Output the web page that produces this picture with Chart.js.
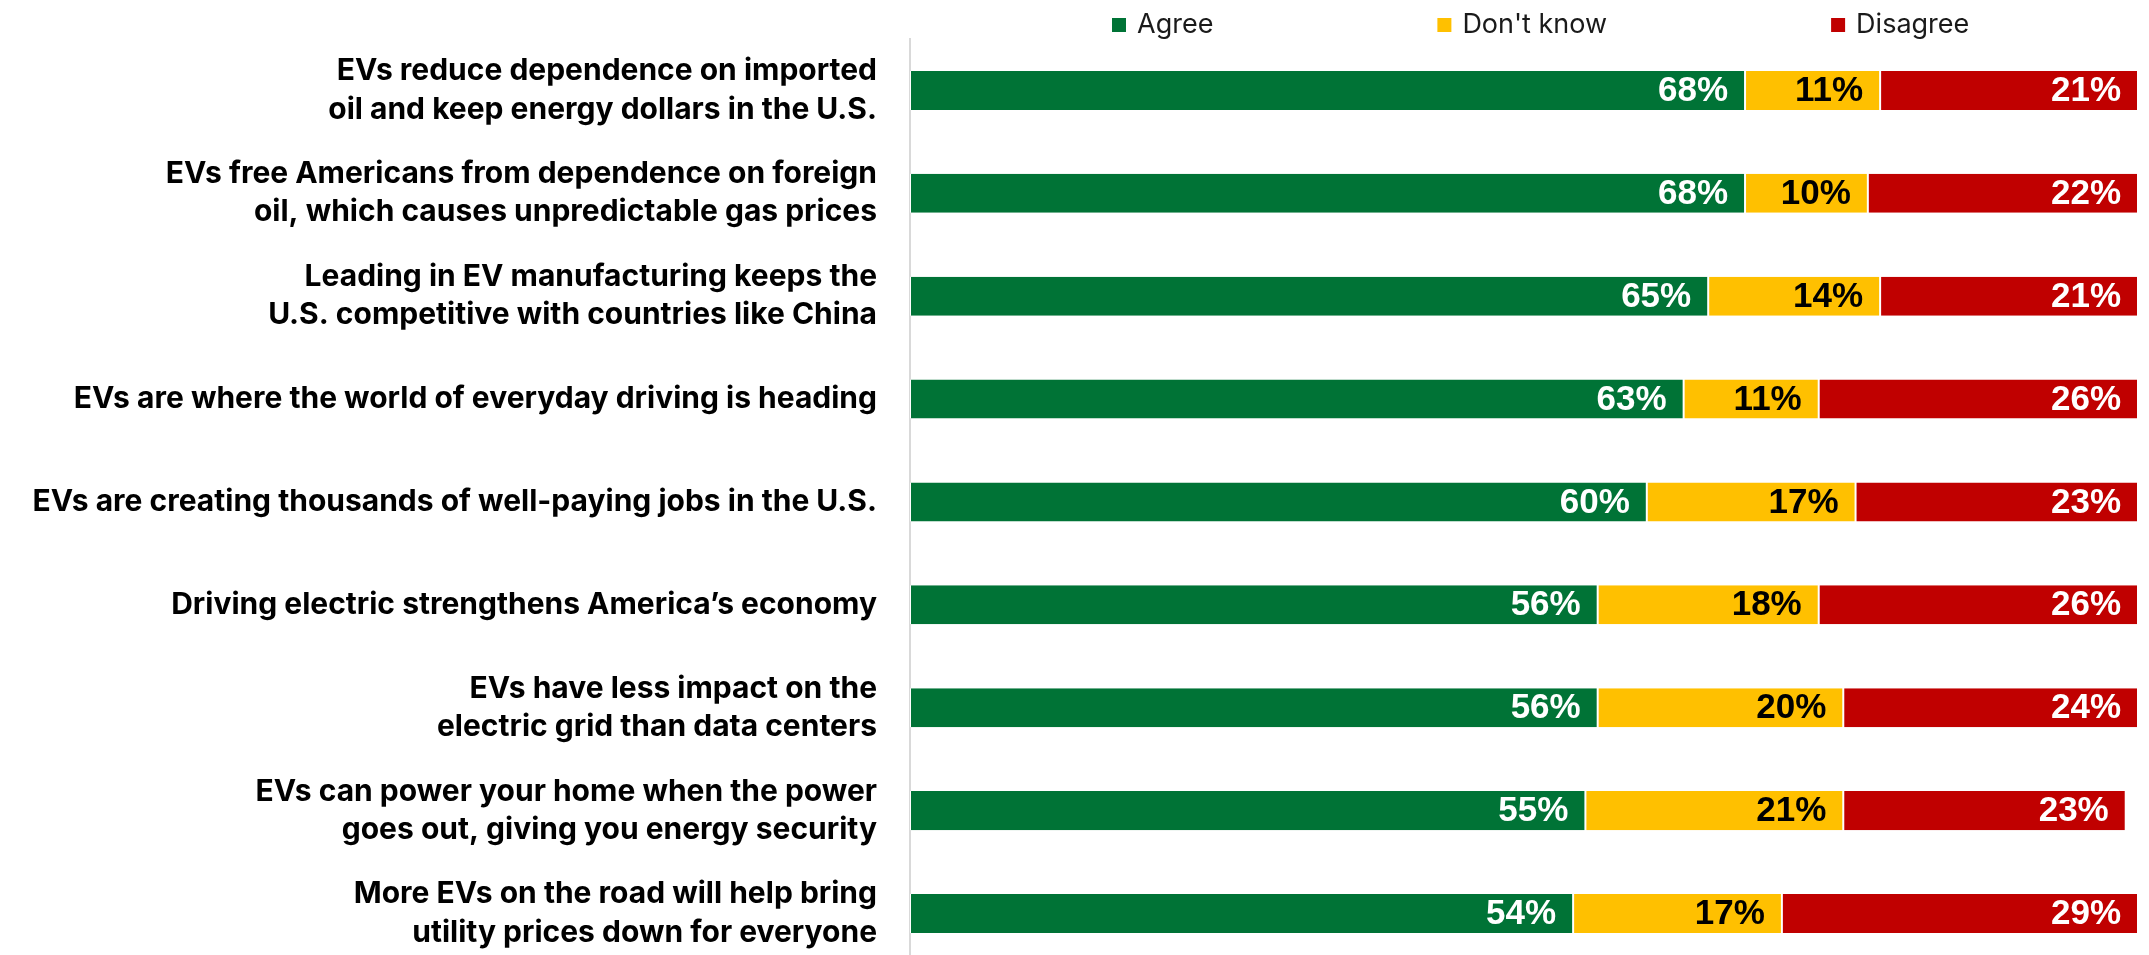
<!DOCTYPE html>
<html>
<head>
<meta charset="utf-8">
<script src="https://cdn.jsdelivr.net/npm/chart.js@4/dist/chart.umd.min.js"></script>
<style>
  html, body { margin: 0; padding: 0; background: #ffffff; overflow: hidden; }
  #wrap { width: 2149px; height: 955px; overflow: hidden; }
  canvas { display: block; }
</style>
</head>
<body>
<div id="wrap"><canvas id="chart" width="2149" height="1003"></canvas></div>
<script>
// Statements (multi-line labels as arrays of lines)
const categories = [
  ["EVs reduce dependence on imported", "oil and keep energy dollars in the U.S."],
  ["EVs free Americans from dependence on foreign", "oil, which causes unpredictable gas prices"],
  ["Leading in EV manufacturing keeps the", "U.S. competitive with countries like China"],
  "EVs are where the world of everyday driving is heading",
  "EVs are creating thousands of well-paying jobs in the U.S.",
  "Driving electric strengthens America\u2019s economy",
  ["EVs have less impact on the", "electric grid than data centers"],
  ["EVs can power your home when the power", "goes out, giving you energy security"],
  ["More EVs on the road will help bring", "utility prices down for everyone"]
];

// Shares of respondents, in percent
const agree    = [68, 68, 65, 63, 60, 56, 56, 55, 54];
const dontKnow = [11, 10, 14, 11, 17, 18, 20, 21, 17];
const disagree = [21, 22, 21, 26, 23, 26, 24, 23, 29];

const seriesNames = ["Agree", "Don't know", "Disagree"];
const seriesColors = ["#007336", "#FFC000", "#C00000"];
const labelColors = ["#ffffff", "#000000", "#ffffff"];

// Percent labels drawn right-aligned inside each segment
const valueLabels = {
  id: 'valueLabels',
  afterDatasetsDraw(chart) {
    const ctx = chart.ctx;
    ctx.save();
    ctx.font = 'bold 35px "Liberation Sans", Arial, sans-serif';
    ctx.textAlign = 'right';
    ctx.textBaseline = 'middle';
    chart.data.datasets.forEach((ds, di) => {
      const meta = chart.getDatasetMeta(di);
      ctx.fillStyle = labelColors[di];
      meta.data.forEach((bar, i) => {
        ctx.fillText(ds.data[i] + '%', bar.x - 17, bar.y + 1);
      });
    });
    ctx.restore();
  }
};

// Legend row above the plot
const topLegend = {
  id: 'topLegend',
  afterDraw(chart) {
    const ctx = chart.ctx;
    const area = chart.chartArea;
    ctx.save();
    ctx.font = '400 27px Inter, "Noto Sans", sans-serif';
    ctx.textAlign = 'left';
    ctx.textBaseline = 'middle';
    let x = area.left + 202;
    const cy = 25;
    chart.data.datasets.forEach((ds) => {
      ctx.fillStyle = ds.backgroundColor;
      ctx.fillRect(x, cy - 7, 14, 14);
      ctx.fillStyle = '#1a1a1a';
      ctx.fillText(ds.label, x + 25, cy);
      x += 25 + ctx.measureText(ds.label).width + 224;
    });
    ctx.restore();
  }
};

const values = [agree, dontKnow, disagree];

new Chart(document.getElementById('chart'), {
  type: 'bar',
  data: {
    labels: categories,
    datasets: values.map((v, i) => ({
      label: seriesNames[i],
      data: v,
      backgroundColor: seriesColors[i],
      borderColor: '#ffffff',
      borderWidth: { left: 1, right: 1, top: 0, bottom: 0 },
      borderSkipped: false,
      barPercentage: 0.38,
      categoryPercentage: 1.0
    }))
  },
  options: {
    indexAxis: 'y',
    responsive: false,
    devicePixelRatio: 1,
    animation: false,
    layout: { padding: { top: 39, right: 11, bottom: 38, left: 0 } },
    plugins: {
      legend: { display: false },
      tooltip: { enabled: false }
    },
    scales: {
      x: {
        stacked: true,
        min: 0,
        max: 100,
        display: false
      },
      y: {
        stacked: true,
        grid: { display: false, drawTicks: true, tickLength: 33 },
        border: { display: true, color: '#d9d9d9', width: 2 },
        ticks: {
          padding: 0,
          color: '#000000',
          font: { family: 'Inter, "Noto Sans", sans-serif', size: 30, weight: '700', lineHeight: 1.27 }
        },
        afterFit(scale) { scale.width = 910; }
      }
    }
  },
  plugins: [valueLabels, topLegend]
});
</script>
</body>
</html>
